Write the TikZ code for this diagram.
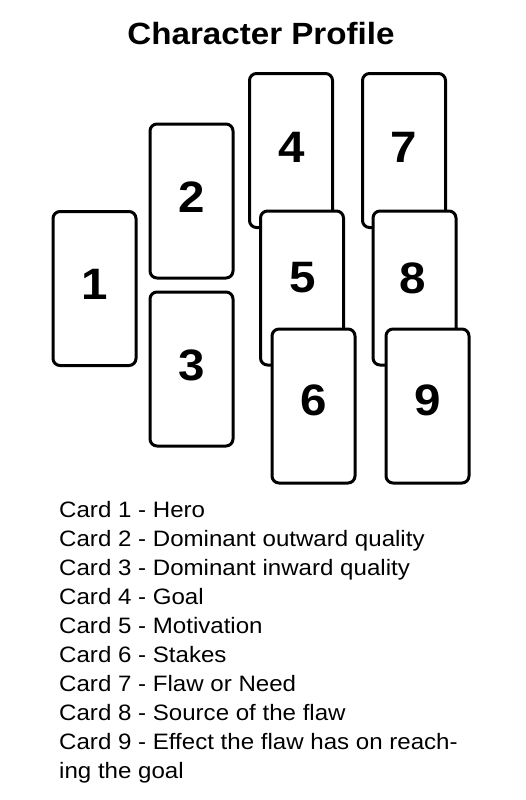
\documentclass[tikz,border=0pt]{standalone}
\usepackage{fontspec}
\setmainfont{Liberation Sans}
\newfontfamily\stretchfont[FakeStretch=1.08]{Liberation Sans}
\begin{document}
\begin{tikzpicture}[x=1pt,y=-1pt,
  card/.style={draw=black, line width=3pt, fill=white, rounded corners=7pt,
    minimum width=83pt, minimum height=154pt, inner sep=0pt},
  digit/.style={font=\stretchfont\bfseries\fontsize{44}{44}\selectfont, inner sep=0pt},
  item/.style={font=\stretchfont\fontsize{22.3}{26}\selectfont, anchor=base west, inner sep=0pt},
  heading/.style={font=\stretchfont\bfseries\fontsize{30.7}{34}\selectfont, anchor=base, inner sep=0pt}]
\useasboundingbox (0,0) rectangle (525,800);
\fill[white] (0,0) rectangle (525,800);

\node[heading] (title) at (261,45) {Character Profile};

\node[card] (c1) at (94.5,288.5) {};
\node[digit] (d1) at (95,284) {1};
\node[card] (c2) at (191.5,201) {};
\node[digit] (d2) at (192,197) {2};
\node[card] (c3) at (191.5,369) {};
\node[digit] (d3) at (192,365) {3};
\node[card] (c4) at (291,150.5) {};
\node[digit] (d4) at (292,147) {4};
\node[card] (c5) at (302,288) {};
\node[digit] (d5) at (303,278) {5};
\node[card] (c6) at (313.5,406) {};
\node[digit] (d6) at (314,400) {6};
\node[card] (c7) at (404,150.5) {};
\node[digit] (d7) at (404,147) {7};
\node[card] (c8) at (414.5,288) {};
\node[digit] (d8) at (413,278) {8};
\node[card] (c9) at (427.5,406) {};
\node[digit] (d9) at (428,400) {9};

\node[item] (l1) at (59,517) {Card 1 - Hero};
\node[item] (l2) at (59,546) {Card 2 - Dominant outward quality};
\node[item] (l3) at (59,575) {Card 3 - Dominant inward quality};
\node[item] (l4) at (59,604) {Card 4 - Goal};
\node[item] (l5) at (59,633) {Card 5 - Motivation};
\node[item] (l6) at (59,662) {Card 6 - Stakes};
\node[item] (l7) at (59,691) {Card 7 - Flaw or Need};
\node[item] (l8) at (59,720) {Card 8 - Source of the flaw};
\node[item] (l9) at (59,749) {Card 9 - Effect the flaw has on reach-};
\node[item] (l10) at (59,778) {ing the goal};
\end{tikzpicture}
\end{document}
